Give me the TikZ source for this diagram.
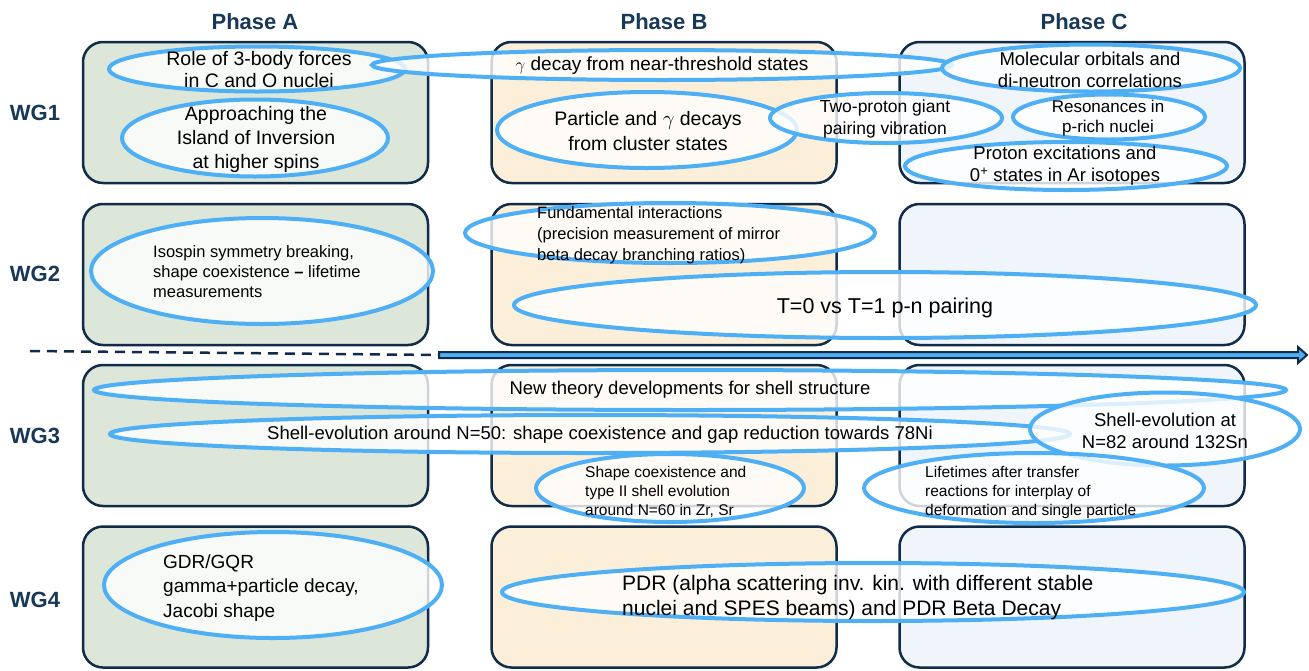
\documentclass[tikz,border=0pt]{standalone}
\usepackage{fontspec}
\setmainfont{Liberation Sans}
\usetikzlibrary{shapes.geometric,arrows.meta}
\definecolor{navy}{RGB}{16,44,72}
\definecolor{lbl}{RGB}{24,56,88}
\definecolor{ellc}{RGB}{78,175,245}
\definecolor{fillA}{RGB}{220,230,217}
\definecolor{fillB}{RGB}{251,239,217}
\definecolor{fillC}{RGB}{239,245,251}
\begin{document}
\begin{tikzpicture}[x=1pt,y=-1pt,
  panel/.style={draw=navy, line width=2.5pt, rounded corners=20pt, minimum width=345pt, minimum height=141pt, inner sep=0pt},
  ell/.style={ellipse, draw=ellc, line width=4pt, fill=white, fill opacity=0.8, draw opacity=1, inner sep=0pt},
  head/.style={font=\bfseries\fontsize{22}{26}\selectfont, text=lbl, inner sep=0pt},
  txt/.style={inner sep=0pt, align=center, text=black},
  ltxt/.style={inner sep=0pt, align=left, anchor=west, text=black},
  timebar/.style={draw=navy, fill=ellc, line width=2pt, line join=miter}
]
\useasboundingbox (0,0) rectangle (1309,670);
\fill[white] (0,0) rectangle (1309,670);

% headings
\node[head] (phA) at (255,22) {Phase A};
\node[head] (phB) at (664,22) {Phase B};
\node[head] (phC) at (1084,22) {Phase C};
\node[head] (wg1) at (35,113) {WG1};
\node[head] (wg2) at (35,274) {WG2};
\node[head] (wg3) at (35,436) {WG3};
\node[head] (wg4) at (35,600) {WG4};

% panels
\foreach \c/\x/\f in {A/255.5/fillA, B/664/fillB, C/1072/fillC}
  \foreach \r/\y in {1/112.5, 2/274.5, 3/435.5, 4/597}
    \node[panel, fill=\f] (box\c\r) at (\x,\y) {};

% timeline
\coordinate (dS) at (30,351);
\coordinate (dE) at (439,355);
\coordinate (aE) at (1307,355);
\draw[navy, line width=2.5pt, dash pattern=on 10pt off 7pt] (dS) -- (dE);
\path[timebar] (dE) ++(0,-3) -- ++(859,0) -- ++(0,-5) -- (aE) -- ++(-9,8) -- ++(0,-5) -- ++(-859,0) -- cycle;

% WG1
\node[ell, minimum width=296pt, minimum height=45pt] (e1) at (257,69) {};
\node[txt, font=\fontsize{19.5}{22}\selectfont] (t1) at (259,70) {Role of 3-body forces\\in C and O nuclei};
\node[ell, minimum width=266pt, minimum height=77pt] (e2) at (255,138) {};
\node[txt, font=\fontsize{19.5}{24}\selectfont] (t2) at (256,139) {Approaching the\\Island of Inversion\\at higher spins};
\node[ell, minimum width=580pt, minimum height=30pt] (e3) at (662,65) {};
\node[txt, font=\fontsize{19}{22}\selectfont] (t3) at (662,66) {$\gamma$ decay from near-threshold states};
\node[ell, minimum width=300pt, minimum height=76pt] (e4) at (647,130) {};
\node[txt, font=\fontsize{19.5}{25}\selectfont] (t4) at (648,131) {Particle and $\gamma$ decays\\from cluster states};
\node[ell, minimum width=232pt, minimum height=50pt] (e5) at (886,118) {};
\node[txt, font=\fontsize{17.5}{22}\selectfont] (t5) at (885,119) {Two-proton giant\\pairing vibration};
\node[ell, minimum width=298pt, minimum height=47pt] (e6) at (1091,68) {};
\node[txt, font=\fontsize{18.5}{22}\selectfont] (t6) at (1090,70) {Molecular orbitals and\\di-neutron correlations};
\node[ell, minimum width=192pt, minimum height=45pt] (e7) at (1109,117) {};
\node[txt, font=\fontsize{17}{20}\selectfont] (t7) at (1108,118) {Resonances in\\p-rich nuclei};
\node[ell, minimum width=322pt, minimum height=48pt] (e8) at (1066,166) {};
\node[txt, font=\fontsize{18.5}{22}\selectfont] (t8) at (1065,166) {Proton excitations and\\0\textsuperscript{+} states in Ar isotopes};

% WG2
\node[ell, minimum width=342pt, minimum height=106pt] (e9) at (262,271) {};
\node[ltxt, font=\fontsize{16.5}{20}\selectfont] (t9) at (153,272) {Isospin symmetry breaking,\\shape coexistence {\bfseries –} lifetime\\measurements};
\node[ell, minimum width=410pt, minimum height=60pt] (e10) at (670,233) {};
\node[ltxt, font=\fontsize{16.5}{21}\selectfont] (t10) at (537,235) {Fundamental interactions\\(precision measurement of mirror\\beta decay branching ratios)};
\node[ell, minimum width=742pt, minimum height=66pt] (e11) at (885,305) {};
\node[txt, font=\fontsize{21.5}{25}\selectfont] (t11) at (885,308) {T=0 vs T=1 p-n pairing};

% WG3
\node[ell, minimum width=1192pt, minimum height=40pt] (e12) at (690,390) {};
\node[txt, font=\fontsize{18.5}{22}\selectfont] (t12) at (690,390) {New theory developments for shell structure};
\node[ell, minimum width=960pt, minimum height=38pt] (e13) at (590,434) {};
\node[txt, font=\fontsize{18.5}{22}\selectfont] (t13) at (600,435) {Shell-evolution around N=50: shape coexistence and gap reduction towards 78Ni};
\node[ell, minimum width=270pt, minimum height=73pt] (e14) at (1165,429) {};
\node[txt, font=\fontsize{18.5}{22}\selectfont] (t14) at (1165,431) {Shell-evolution at\\N=82 around 132Sn};
\node[ell, minimum width=268pt, minimum height=68pt] (e15) at (670,488) {};
\node[ltxt, font=\fontsize{15.5}{19}\selectfont] (t15) at (585,492) {Shape coexistence and\\type II shell evolution\\around N=60 in Zr, Sr};
\node[ell, minimum width=340pt, minimum height=70pt] (e16) at (1034,488) {};
\node[ltxt, font=\fontsize{15.5}{19}\selectfont] (t16) at (925,492) {Lifetimes after transfer\\reactions for interplay of\\deformation and single particle};

% WG4
\node[ell, minimum width=338pt, minimum height=106pt] (e17) at (273,585) {};
\node[ltxt, font=\fontsize{19}{24.5}\selectfont] (t17) at (163,588) {GDR/GQR\\gamma+particle decay,\\Jacobi shape};
\node[ell, minimum width=742pt, minimum height=58pt] (e18) at (873,592) {};
\node[ltxt, font=\fontsize{21}{25}\selectfont] (t18) at (622,598) {PDR (alpha scattering inv. kin. with different stable\\nuclei and SPES beams) and PDR Beta Decay};
\end{tikzpicture}
\end{document}
